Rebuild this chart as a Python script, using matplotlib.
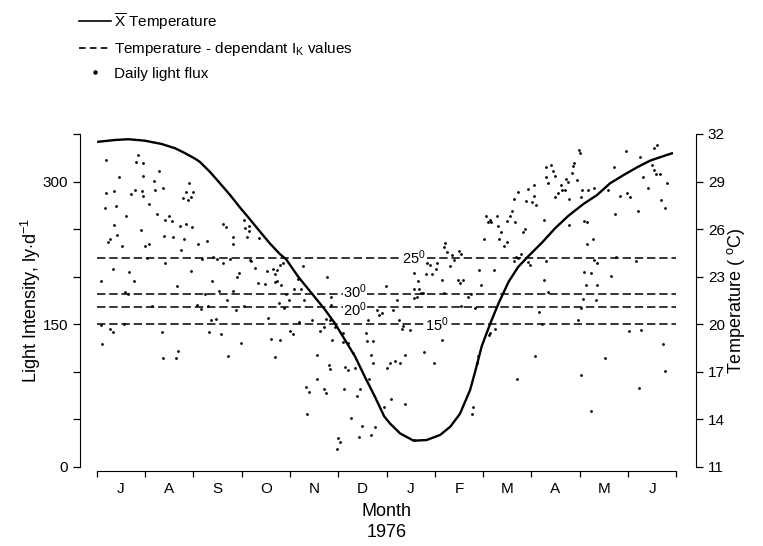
import matplotlib
matplotlib.use("Agg")
import matplotlib.pyplot as plt
from matplotlib.lines import Line2D

plt.rcParams['font.family'] = 'Liberation Sans'
plt.rcParams['mathtext.fontset'] = 'custom'
plt.rcParams['mathtext.rm'] = 'Liberation Sans'
plt.rcParams['mathtext.it'] = 'Liberation Sans:italic'

# months July 1975 .. June 1976, x measured in months from 1 July
month_labels = ['J', 'A', 'S', 'O', 'N', 'D', 'J', 'F', 'M', 'A', 'M', 'J']

# mean temperature curve (deg C)
temp_month = [0.03, 0.37, 0.65, 0.99, 1.34, 1.62, 1.82, 2.03, 2.13, 2.34, 2.55, 2.76, 2.96,
              3.17, 3.38, 3.58, 3.79, 3.92, 4.17, 4.45, 4.73, 4.93, 5.14, 5.35, 5.55, 5.76,
              5.95, 6.07, 6.28, 6.56, 6.83, 7.11, 7.32, 7.52, 7.73, 7.83, 7.97, 8.15, 8.32,
              8.53, 8.73, 8.94, 9.22, 9.49, 9.77, 10.08, 10.36, 10.63, 10.91, 11.19, 11.46,
              11.74, 11.91]
temp_value = [31.51, 31.62, 31.67, 31.58, 31.37, 31.10, 30.80, 30.45, 30.25, 29.62, 28.89, 28.15, 27.38,
              26.62, 25.84, 25.11, 24.43, 24.10, 23.00, 21.95, 20.90, 20.06, 19.01, 17.96, 16.69, 15.43,
              14.20, 13.75, 13.12, 12.66, 12.70, 13.02, 13.54, 14.35, 15.85, 16.95, 18.60, 20.06, 21.32,
              22.69, 23.63, 24.30, 25.15, 26.05, 26.85, 27.59, 28.15, 28.89, 29.41, 29.90, 30.32,
              30.61, 30.78]

# temperature-dependent Ik values (ly/d)
ik_temps = ['25', '30', '20', '15']
ik_values = [220, 182, 168, 150]

# daily light flux (ly/d)
flux_month = [
    0.19, 0.86, 0.82, 0.95, 0.46, 0.95, 1.28, 1.18, 0.19, 0.35, 0.71, 0.78, 0.93, 0.95, 1.21, 1.37,
    1.90, 1.85, 2.00, 1.79, 1.88, 1.96, 0.17, 0.39, 1.08, 0.60, 1.24, 1.49, 1.42, 1.55, 0.36, 0.91,
    1.73, 1.84, 1.98, 0.42, 0.28, 0.24, 0.53, 1.40, 1.57, 1.80, 1.00, 1.09, 1.75, 1.03, 0.33, 0.67,
    1.42, 1.95, 0.09, 0.76, 1.67, 0.58, 0.65, 1.15, 0.09, 0.57, 0.27, 0.34, 1.34, 0.11, 1.69, 1.37,
    1.64,
    2.09, 2.29, 2.61, 2.67, 2.82, 2.83, 3.05, 3.07, 3.16, 3.16, 3.12, 3.36, 2.41, 2.48, 2.18, 2.62,
    2.76, 3.17, 3.20, 3.28, 2.94, 2.91, 2.38, 3.34, 3.48, 3.52, 3.64, 3.73, 3.80, 3.86, 3.68, 3.68,
    3.74, 3.81, 3.77, 3.92, 3.97, 2.54, 2.82, 2.25, 2.69, 2.08, 2.16, 2.30, 2.88, 3.05, 3.55, 2.37,
    2.47, 2.33, 2.58, 2.99, 3.60, 3.80, 2.71, 3.68, 3.88,
    4.26, 4.16, 4.08, 4.23, 4.30, 4.77, 4.85, 4.85, 4.45, 4.19, 4.01, 4.07, 4.62, 4.71, 4.74, 4.82,
    4.88, 4.94, 5.09, 5.21, 5.09, 5.14, 5.20, 4.80, 4.83, 5.30, 5.35, 5.58, 5.59, 5.71, 5.62, 5.67,
    5.71, 5.64, 4.57, 4.57, 4.33, 4.40, 4.71, 4.75, 5.11, 5.38, 5.46, 4.36, 5.27, 5.50, 5.76, 5.43,
    5.68, 5.00, 5.04, 4.98, 5.80, 5.85, 5.90, 5.95,
    5.98, 6.13, 6.21, 6.25, 6.32, 6.49, 6.34, 6.57, 6.65, 6.56, 6.56, 6.64, 6.68, 6.72, 6.76, 6.83,
    6.90, 6.82, 6.94, 7.03, 7.14, 7.04, 7.21, 7.18, 7.25, 7.35, 7.32, 7.40, 7.51, 7.54, 7.47, 7.52,
    7.59, 7.92, 7.18, 7.68, 7.75, 7.83, 7.54, 7.14, 6.78, 6.99, 6.00, 6.07, 6.18, 6.27, 6.39, 6.10,
    6.38, 6.56, 7.79, 7.77, 7.87,
    7.96, 8.22, 8.01, 8.05, 8.11, 8.14, 8.16, 8.28, 8.30, 8.37, 8.32, 8.43, 8.50, 8.49, 8.56, 8.59,
    8.66, 8.64, 8.72, 8.93, 9.05, 8.89, 9.02, 9.06, 9.10, 8.86, 8.82, 9.26, 9.31, 9.35, 9.31, 9.40,
    9.44, 9.49, 9.61, 9.63, 9.69, 9.55, 9.49, 9.71, 9.76, 9.84, 9.86, 9.89, 9.77, 9.78, 8.73, 8.79,
    8.69, 8.63, 8.94, 8.97, 9.31, 9.26, 9.34, 9.15, 9.22, 8.25, 8.15, 8.13, 7.90, 9.08, 8.71,
    9.98, 10.01, 9.94, 10.05, 10.18, 10.29, 10.03, 10.58, 10.71, 10.95, 11.24, 11.54, 11.61, 11.49,
    11.54, 11.59, 11.67, 11.31, 11.41, 11.81, 10.84, 10.99, 11.05, 11.68, 11.77, 11.21, 10.74, 10.09,
    10.16, 10.28, 10.15, 10.76, 10.29, 10.35, 11.16, 10.10, 10.23, 10.65, 10.14, 10.35, 10.07, 10.34,
    10.03, 9.96, 11.03, 11.28, 11.72, 10.53, 10.03, 11.77, 11.23, 10.24,
]
flux_light = [
    323, 328, 321, 320, 305, 306, 311, 301, 288, 290, 287, 291, 290, 285, 291, 293,
    299, 289, 289, 283, 281, 284, 272, 274, 276, 264, 266, 264, 260, 259, 254, 249,
    253, 255, 252, 244, 240, 236, 232, 243, 242, 240, 232, 234, 228, 220, 208, 205,
    214, 206, 195, 195, 190, 184, 182, 169, 149, 150, 145, 142, 142, 129, 122, 115,
    115,
    234, 238, 255, 252, 242, 234, 260, 251, 253, 248, 242, 241, 221, 219, 219, 214,
    219, 218, 216, 209, 204, 200, 196, 193, 192, 206, 208, 207, 212, 214, 203, 194,
    196, 191, 172, 182, 176, 185, 185, 182, 176, 170, 166, 169, 165, 169, 157, 155,
    156, 142, 140, 130, 135, 134, 117, 116, 167,
    211, 198, 187, 187, 176, 200, 179, 170, 155, 152, 143, 140, 143, 147, 156, 155,
    134, 147, 141, 130, 131, 105, 102, 107, 103, 120, 104, 141, 132, 132, 154, 118,
    109, 92, 118, 92, 84, 79, 82, 78, 82, 75, 82, 56, 52, 43, 42, 31,
    34, 30, 26, 19, 165, 160, 162, 63,
    190, 165, 176, 154, 145, 144, 148, 204, 196, 187, 178, 179, 187, 183, 183, 214,
    212, 203, 203, 208, 197, 214, 235, 231, 226, 223, 211, 218, 227, 224, 197, 193,
    197, 207, 183, 179, 182, 167, 169, 134, 121, 109, 104, 109, 111, 109, 118, 71,
    66, 28, 63, 56, 109,
    191, 207, 240, 264, 257, 260, 257, 264, 253, 247, 240, 232, 236, 259, 264, 269,
    258, 282, 289, 292, 296, 280, 278, 285, 275, 250, 247, 260, 305, 298, 315, 317,
    311, 306, 296, 291, 291, 288, 284, 303, 300, 309, 316, 320, 282, 254, 220, 224,
    221, 217, 215, 212, 216, 197, 184, 163, 150, 145, 141, 139, 117, 117, 92,
    333, 330, 302, 291, 291, 293, 284, 291, 315, 332, 326, 335, 338, 317,
    312, 308, 308, 305, 293, 298, 285, 288, 284, 281, 272, 269, 266, 259,
    258, 240, 234, 221, 218, 214, 216, 205, 204, 201, 191, 191, 177, 176,
    167, 155, 143, 144, 129, 115, 97, 101, 83, 59,
]

fig = plt.figure(figsize=(7.63, 5.46), dpi=100)
ax = fig.add_axes([0.1048, 0.1447, 0.8074, 0.6099])
ax2 = ax.twinx()

# scatter of daily flux
ax.scatter(flux_month, flux_light, s=4, color='black', linewidths=0, zorder=3)

# Ik dashed lines
for v in ik_values:
    ax.plot([0, 12], [v, v], color='black', lw=1.1, dashes=(5.5, 2.5), zorder=2)

# labels on the dashed lines (position, small nudge so 30/20 don't collide)
label_x = [6.57, 5.35, 5.35, 7.05]
label_dy = [0, 2.5, -2.5, 0]
for t, v, lx, dy in zip(ik_temps, ik_values, label_x, label_dy):
    ax.text(lx, v + dy, t + '$^0$', fontsize=10.5, ha='center', va='center', zorder=4,
            bbox=dict(facecolor='white', edgecolor='none', pad=0.2))

# temperature curve
ax2.plot(temp_month, temp_value, color='black', lw=1.7)

ax.set_xlim(-0.35, 12.41)
ax.set_ylim(0, 350)
ax2.set_ylim(11, 32)

# left axis
ax.set_yticks([0, 150, 300])
ax.set_yticks([50, 100, 200, 250, 350], minor=True)
ax.tick_params(axis='y', which='both', direction='out', length=5, width=0.9, labelsize=11)
ax.set_ylabel('Light Intensity, ly$\\cdot$d$^{-1}$', fontsize=13, labelpad=0)

# bottom axis
ax.set_xticks(range(13))
ax.set_xticklabels([])
ax.set_xticks([m + 0.5 for m in range(12)], minor=True)
ax.set_xticklabels(month_labels, minor=True)
ax.tick_params(axis='x', which='major', direction='out', length=4, width=0.9)
ax.tick_params(axis='x', which='minor', length=0, labelsize=11, pad=8)
ax.spines['bottom'].set_position(('outward', 3))
ax.spines['bottom'].set_bounds(0, 12)
ax.spines['top'].set_visible(False)
ax.spines['right'].set_visible(False)
for sp in ['top', 'bottom', 'left']:
    ax2.spines[sp].set_visible(False)

# right axis
ax2.set_yticks(range(11, 33, 3))
ax2.tick_params(axis='y', direction='out', length=5, width=0.9, labelsize=11)
ax2.set_ylabel('Temperature ( $^{\\mathrm{o}}$C)', fontsize=13, labelpad=0)

fig.text(0.507, 0.044, 'Month\n1976', ha='center', va='center', fontsize=13, linespacing=1.25)

# legend
handles = [Line2D([], [], color='black', lw=1.2),
           Line2D([], [], color='black', lw=1.2, dashes=(4, 2.5)),
           Line2D([], [], color='black', lw=0, marker='o', markersize=2.2)]
labels = ['$\\overline{\\mathrm{X}}$ Temperature',
          'Temperature - dependant $\\mathrm{I_K}$ values',
          'Daily light flux']
fig.legend(handles, labels, loc='upper left', bbox_to_anchor=(0.085, 1.005), frameon=False,
           fontsize=11, handlelength=2.1, handletextpad=0.2, labelspacing=0.55)

fig.savefig('out.png', dpi=100)
